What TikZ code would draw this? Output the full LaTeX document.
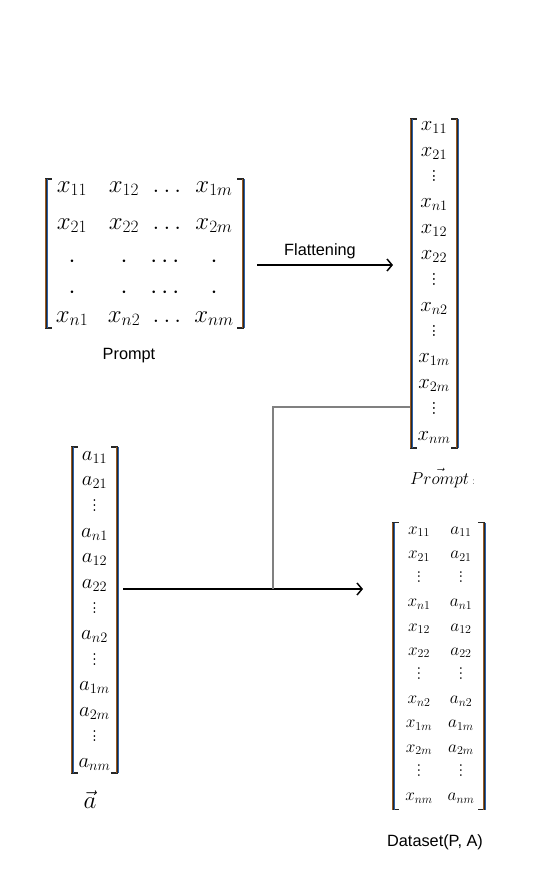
\documentclass[tikz,border=0pt]{standalone}
\usepackage{fontspec}
\setsansfont{Liberation Sans}
\usepackage{amsmath}
\usepackage{graphicx}
\usetikzlibrary{arrows.meta,calc}
\definecolor{brkblue}{HTML}{2A5FA8}
\definecolor{brkbrown}{HTML}{9A5A22}
\newcommand{\vd}{\scalebox{1}[1.2]{$\vdots$}}
\newcommand{\drawbrackets}[1]{%
  \draw[brk] ([xshift=5pt]#1.north west) -- (#1.north west) -- (#1.south west) -- ([xshift=5pt]#1.south west);
  \draw[brk] ([xshift=-5pt]#1.north east) -- (#1.north east) -- (#1.south east) -- ([xshift=-5pt]#1.south east);
  \draw[fringeB] ([xshift=0.9pt]#1.north west) -- ([xshift=0.9pt]#1.south west);
  \draw[fringeR] ([xshift=-0.9pt]#1.north west) -- ([xshift=-0.9pt]#1.south west);
  \draw[fringeR] ([xshift=-0.9pt]#1.north east) -- ([xshift=-0.9pt]#1.south east);
  \draw[fringeB] ([xshift=0.9pt]#1.north east) -- ([xshift=0.9pt]#1.south east);
}
\begin{document}
\begin{tikzpicture}[x=1pt,y=-1pt,
  frame/.style={inner sep=0pt, outer sep=0pt, draw=none},
  brk/.style={line width=1.3pt, color=black!85, line cap=rect},
  fringeB/.style={line width=0.45pt, color=brkblue},
  fringeR/.style={line width=0.45pt, color=brkbrown},
  entA/.style={inner sep=0pt, text height=0.6em, text depth=0.15em, font=\fontsize{24}{28}\selectfont},
  entF/.style={inner sep=0pt, text height=0.6em, text depth=0.15em, font=\fontsize{21}{25}\selectfont},
  entV/.style={inner sep=0pt, text height=0.6em, text depth=0.15em, font=\fontsize{19.5}{23}\selectfont},
  entD/.style={inner sep=0pt, text height=0.6em, text depth=0.15em, font=\fontsize{18.8}{22}\selectfont},
  lab/.style={inner sep=0pt, font=\sffamily\fontsize{16.3}{19}\selectfont},
  arr/.style={line width=1.5pt, -{Straight Barb[length=5pt,width=12pt,line width=1.5pt]}},
  gline/.style={line width=1.3pt, color=black!50}
]
\useasboundingbox (0,0) rectangle (550,876);

% ---------- frames of the four matrices ----------
\node[frame, minimum width=197pt, minimum height=149pt] (P) at (144.5,253.5) {};
\node[frame, minimum width=46pt,  minimum height=329pt] (F) at (434,283.5) {};
\node[frame, minimum width=45pt,  minimum height=326pt] (A) at (94.5,610) {};
\node[frame, minimum width=91pt,  minimum height=287pt] (D) at (438.5,666) {};

\drawbrackets{P}
\drawbrackets{F}
\drawbrackets{A}
\drawbrackets{D}

% ---------- Prompt matrix ----------
\foreach \r/\y/\a/\b/\c/\d in {
  1/190/x_{11}/x_{12}/\ldots/x_{1m},
  2/227/x_{21}/x_{22}/\ldots/x_{2m},
  3/265/\cdot/\cdot/\cdots/\cdot,
  4/296/\cdot/\cdot/\cdots/\cdot,
  5/320/x_{n1}/x_{n2}/\ldots/x_{nm}}{
  \node[entA] (P-\r-1) at (72,\y)  {$\a$};
  \node[entA] (P-\r-2) at (124,\y) {$\b$};
  \node[entA] (P-\r-3) at (167,\y) {$\c$};
  \node[entA] (P-\r-4) at (214,\y) {$\d$};
}
\node[lab] (Plab) at (129,356) {Prompt};

% ---------- flattened prompt ----------
\foreach \t [count=\i from 0] in {x_{11},x_{21},\vd,x_{n1},x_{12},x_{22},\vd,x_{n2},\vd,x_{1m},x_{2m},\vd,x_{nm}}{
  \node[entF] (F-\i) at (434,{128+25.83*\i}) {$\t$};
}
\node[inner sep=0pt, anchor=west] (Flab) at (410,478)
  {\fontsize{17.5}{20}\selectfont$\vec{Prompt}$\,{\color{black!55}\fontsize{11}{12}\selectfont :}};

% ---------- vector a ----------
\foreach \t [count=\i from 0] in {a_{11},a_{21},\vd,a_{n1},a_{12},a_{22},\vd,a_{n2},\vd,a_{1m},a_{2m},\vd,a_{nm}}{
  \node[entV] (A-\i) at (94.5,{458+25.6*\i}) {$\t$};
}
\node[inner sep=0pt] (Alab) at (90,800) {\fontsize{25}{29}\selectfont$\vec{a}$};

% ---------- dataset ----------
\foreach \t/\u [count=\i from 0] in {x_{11}/a_{11},x_{21}/a_{21},\vd/\vd,x_{n1}/a_{n1},x_{12}/a_{12},x_{22}/a_{22},\vd/\vd,x_{n2}/a_{n2},x_{1m}/a_{1m},x_{2m}/a_{2m},\vd/\vd,x_{nm}/a_{nm}}{
  \node[entD] (D-\i-1) at (419,{532+24.2*\i}) {$\t$};
  \node[entD] (D-\i-2) at (461,{532+24.2*\i}) {$\u$};
}
\node[lab] (Dlab) at (435,842) {Dataset(P, A)};

% ---------- connectors ----------
\path (P.east) ++(14,11.5) coordinate (s1);
\draw[arr, shorten >=18pt] (s1) -- (s1 -| F.west);
\node[lab] (flat) at (320,251) {Flattening};

\path (A.east) ++(6,-21) coordinate (s2);
\draw[arr, shorten >=30pt] (s2) -- (s2 -| D.west);

\path (F.west) ++(-1,123.5) coordinate (g1);
\coordinate (join) at (273,589);
\draw[gline] (g1) -| (join);
\end{tikzpicture}
\end{document}
